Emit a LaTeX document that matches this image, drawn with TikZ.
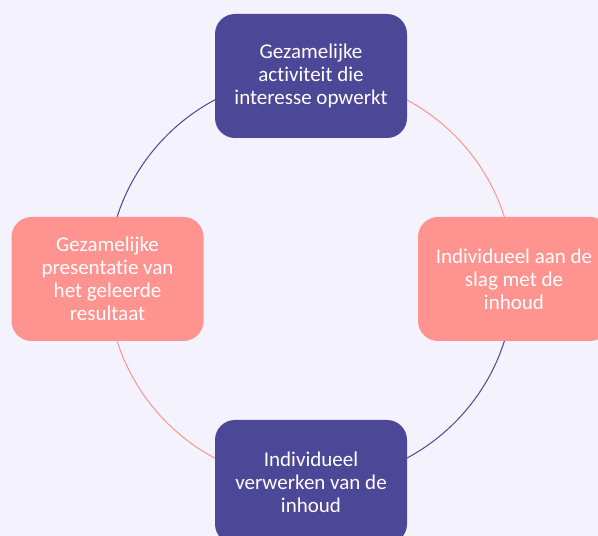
\documentclass[tikz,border=0pt]{standalone}
\usepackage{fontspec}
\setmainfont{Carlito}[Ligatures=NoCommon]
\definecolor{bgc}{HTML}{F4F2FC}
\definecolor{purp}{HTML}{4C4796}
\definecolor{salm}{HTML}{FF938F}
\pgfdeclarelayer{bglayer}
\pgfdeclarelayer{arcs}
\pgfsetlayers{bglayer,arcs,main}
\begin{document}
\begin{tikzpicture}[x=1pt,y=1pt,
  box/.style={rounded corners=20pt, minimum width=192pt, minimum height=124pt,
    align=center, text=white, inner sep=0pt,
    font=\fontsize{21}{23}\selectfont},
  pbox/.style={box, fill=purp},
  sbox/.style={box, fill=salm},
  link/.style={line width=1pt}]
\clip (0,0) rectangle (598,536);
\begin{pgfonlayer}{bglayer}
\fill[bgc] (0,0) rectangle (598,536);
\end{pgfonlayer}
\node[pbox] (top) at (311,460) {Gezamelijke\\activiteit die\\interesse opwerkt};
\node[sbox] (right) at (514,257) {Individueel aan de\\slag met de\\inhoud};
\node[pbox] (bottom) at (311,54) {Individueel\\verwerken van de\\inhoud};
\node[sbox] (left) at (107.5,257) {Gezamelijke\\presentatie van\\het geleerde\\resultaat};
\begin{pgfonlayer}{arcs}
\draw[link, salm] (top.center) to[out=0,in=90] (right.center);
\draw[link, purp] (right.center) to[out=-90,in=0] (bottom.center);
\draw[link, salm] (bottom.center) to[out=180,in=-90] (left.center);
\draw[link, purp] (left.center) to[out=90,in=180] (top.center);
\end{pgfonlayer}
\end{tikzpicture}
\end{document}
